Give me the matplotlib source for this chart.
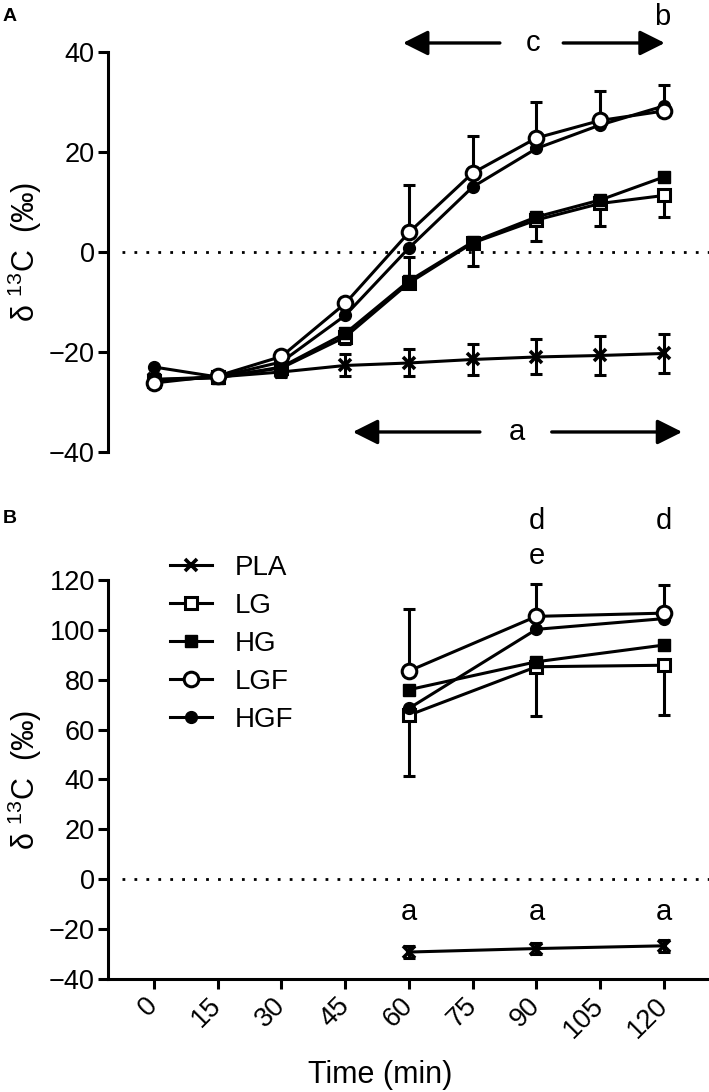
import matplotlib
matplotlib.use("Agg")
import matplotlib.pyplot as plt

plt.rcParams['font.family'] = ['Liberation Sans', 'DejaVu Sans']
plt.rcParams['mathtext.fontset'] = 'custom'
plt.rcParams['mathtext.rm'] = 'Liberation Sans'
plt.rcParams['mathtext.it'] = 'Liberation Sans:italic'
plt.rcParams['mathtext.bf'] = 'Liberation Sans:bold'

# ---------------- data ----------------
times_A = [0, 15, 30, 45, 60, 75, 90, 105, 120]
PLA_A = [-25.5, -25.0, -24.0, -22.7, -22.2, -21.5, -21.0, -20.7, -20.3]
PLA_A_err = [0.8, 0.8, 1.0, 2.2, 2.7, 3.1, 3.5, 3.9, 3.9]
LG_A = [-25.8, -25.0, -23.2, -17.0, -6.2, 1.8, 6.4, 9.7, 11.3]
LG_A_err_down = [1.2, 1.0, 0.8, 1.5, 0.0, 4.6, 4.2, 4.6, 4.4]
HG_A = [-25.5, -25.2, -23.0, -16.3, -5.8, 2.0, 7.0, 10.4, 15.0]
HG_A_err_up = [0, 0, 0, 0, 4.8, 0, 0, 0, 0]
LGF_A = [-26.2, -24.8, -20.9, -10.3, 3.9, 15.8, 22.8, 26.3, 28.2]
LGF_A_err_up = [0, 0.5, 0.5, 0.8, 9.4, 7.4, 7.1, 5.8, 5.1]
HGF_A = [-23.0, -25.0, -22.0, -12.7, 0.8, 13.0, 20.7, 25.4, 29.2]

times_B = [60, 90, 120]
PLA_B = [-29.2, -27.8, -26.7]
PLA_B_err = [2.3, 2.3, 2.5]
LG_B = [65.8, 85.2, 85.8]
LG_B_err_down = [24.3, 19.8, 19.8]
HG_B = [76.0, 87.2, 93.9]
LGF_B = [83.5, 105.4, 106.7]
LGF_B_err_up = [24.7, 12.8, 11.2]
HGF_B = [68.5, 100.2, 104.5]

tick_times = [0, 15, 30, 45, 60, 75, 90, 105, 120]
yticks_A = [-40, -20, 0, 20, 40]
yticks_B = [-40, -20, 0, 20, 40, 60, 80, 100, 120]
group_names = ['PLA', 'LG', 'HG', 'LGF', 'HGF']

ylabel = r'δ $^{\mathregular{13}}$C  (‰)'
LW = 2.2
FS_TICK = 19.5
FS_LABEL = 22
FS_LETTER = 21

fig = plt.figure(figsize=(7.09, 10.92), dpi=100)
axA = fig.add_axes([0.1523, 0.5861, 0.8477, 0.3663])
axB = fig.add_axes([0.1523, 0.1035, 0.8477, 0.3654])

styles = {
    'PLA': dict(marker='x', mfc='k', ms=8, mew=2.6),
    'LG': dict(marker='s', mfc='white', ms=8, mew=2.2),
    'HG': dict(marker='s', mfc='k', ms=9, mew=1.0),
    'LGF': dict(marker='o', mfc='white', ms=10.5, mew=2.2),
    'HGF': dict(marker='o', mfc='k', ms=8.5, mew=1.0),
}


def series(ax, t, y, name, lo=None, hi=None, z=3):
    if lo is not None or hi is not None:
        lo = lo if lo is not None else [0] * len(y)
        hi = hi if hi is not None else [0] * len(y)
        ax.errorbar(t, y, yerr=[lo, hi], fmt='none', ecolor='k',
                    elinewidth=LW, capsize=4.5, capthick=LW, zorder=z - 0.5)
    st = styles[name]
    ax.plot(t, y, color='k', lw=LW, marker=st['marker'], mfc=st['mfc'],
            mec='k', ms=st['ms'], mew=st['mew'], zorder=z, label=name,
            clip_on=False)


# ---------------- Panel A ----------------
series(axA, times_A, PLA_A, 'PLA', lo=PLA_A_err, hi=PLA_A_err, z=3)
series(axA, times_A, LG_A, 'LG', lo=LG_A_err_down, z=4)
series(axA, times_A, HG_A, 'HG', hi=HG_A_err_up, z=5)
series(axA, times_A, HGF_A, 'HGF', z=6)
series(axA, times_A, LGF_A, 'LGF', hi=LGF_A_err_up, z=7)

# ---------------- Panel B ----------------
series(axB, times_B, PLA_B, 'PLA', lo=PLA_B_err, hi=PLA_B_err, z=3)
series(axB, times_B, LG_B, 'LG', lo=LG_B_err_down, z=4)
series(axB, times_B, HG_B, 'HG', z=5)
series(axB, times_B, LGF_B, 'LGF', hi=LGF_B_err_up, z=7)
series(axB, times_B, HGF_B, 'HGF', z=6)

for ax, yt in ((axA, yticks_A), (axB, yticks_B)):
    ax.set_xlim(-10.8, 130.6)
    ax.set_ylim(yt[0], yt[-1])
    ax.set_yticks(yt)
    ax.axhline(0, xmin=0.023, xmax=1, color='k', lw=2.0,
               linestyle=(0, (1, 3.3)), zorder=1)
    for s in ('top', 'right'):
        ax.spines[s].set_visible(False)
    for s in ('left', 'bottom'):
        ax.spines[s].set_linewidth(2.2)
    ax.tick_params(axis='both', direction='out', length=7.5, width=2.2,
                   labelsize=FS_TICK, pad=2)
    ax.set_ylabel(ylabel, fontsize=FS_LABEL, va='center')
    ax.yaxis.set_label_coords(-0.138, 0.5)

axA.spines['bottom'].set_visible(False)
axA.set_xticks([])

axB.set_xticks(tick_times)
axB.set_xticklabels([str(t) for t in tick_times], rotation=45, ha='right',
                    va='center', rotation_mode='anchor')
axB.tick_params(axis='x', pad=9)
axB.set_xlabel('Time (min)', fontsize=FS_LABEL, va='baseline')
axB.xaxis.set_label_coords(0.4526, -0.2607)

# annotations panel A
arrow_kw = dict(arrowstyle='-|>,head_length=0.4,head_width=0.2',
                lw=2.4, color='k', mutation_scale=38, shrinkA=0, shrinkB=0)
axA.annotate('', xy=(58.6, 41.8), xytext=(81.4, 41.8), arrowprops=arrow_kw,
             annotation_clip=False)
axA.annotate('', xy=(120.2, 41.8), xytext=(96.3, 41.8), arrowprops=arrow_kw,
             annotation_clip=False)
axA.text(89.3, 41.8, 'c', fontsize=FS_LETTER, ha='center', va='center')
axA.text(119.5, 47.0, 'b', fontsize=FS_LETTER, ha='center', va='center')
axA.annotate('', xy=(46.8, -36.0), xytext=(76.7, -36.0), arrowprops=arrow_kw,
             annotation_clip=False)
axA.annotate('', xy=(124.3, -36.0), xytext=(93.6, -36.0), arrowprops=arrow_kw,
             annotation_clip=False)
axA.text(85.3, -36.0, 'a', fontsize=FS_LETTER, ha='center', va='center')

# annotations panel B
for t in times_B:
    axB.text(t, -13.3, 'a', fontsize=FS_LETTER, ha='center', va='center')
axB.text(90, 143.6, 'd', fontsize=FS_LETTER, ha='center', va='center')
axB.text(90, 129.6, 'e', fontsize=FS_LETTER, ha='center', va='center')
axB.text(120, 143.6, 'd', fontsize=FS_LETTER, ha='center', va='center')

handles, labels = axB.get_legend_handles_labels()
order = [labels.index(n) for n in group_names]
axB.legend([handles[i] for i in order], [labels[i] for i in order],
           loc='upper left', bbox_to_anchor=(0.103, 1.062), frameon=False,
           fontsize=20, borderpad=0, borderaxespad=0, handlelength=1.5,
           handletextpad=0.83, labelspacing=0.43)

fig.text(0.004, 0.993, 'A', fontsize=14, weight='bold', ha='left', va='top')
fig.text(0.004, 0.533, 'B', fontsize=14, weight='bold', ha='left', va='top')

fig.savefig('out.png', dpi=100)
